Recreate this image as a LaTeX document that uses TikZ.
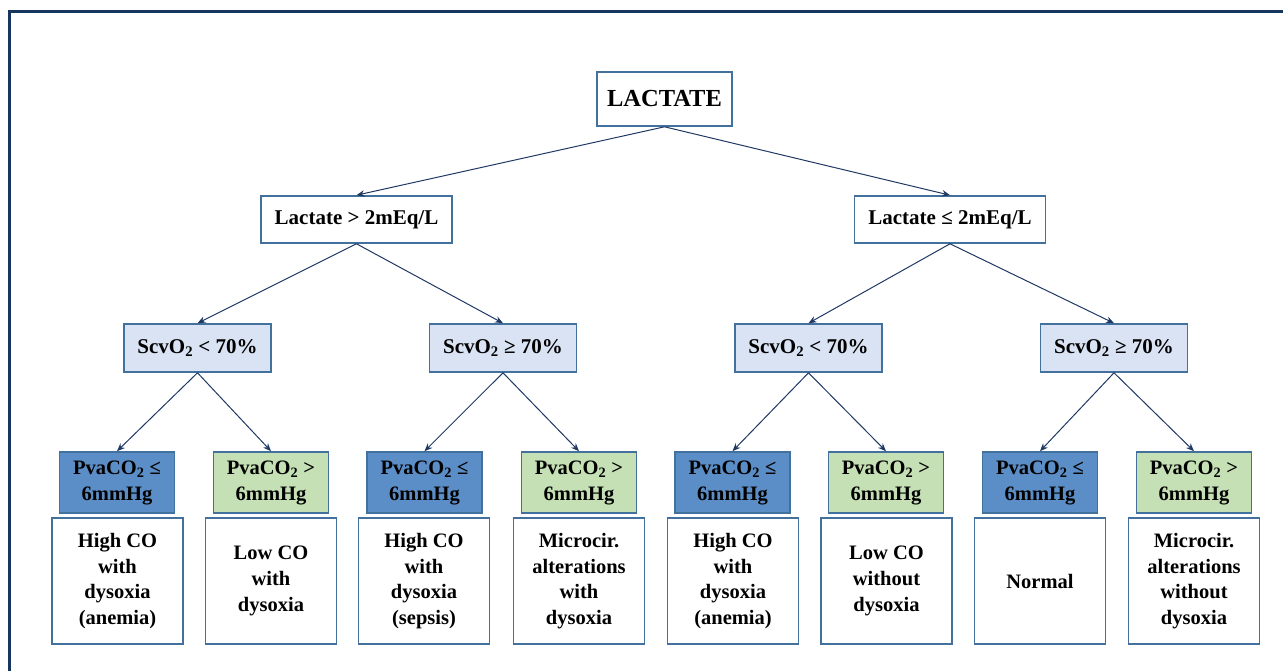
\documentclass[tikz,border=0pt]{standalone}
\usepackage{fontspec}
\setmainfont{Liberation Serif}
\usepackage{xcolor}
\usepackage{tikz}
\usetikzlibrary{arrows.meta}

\definecolor{framenavy}{HTML}{17365D}
\definecolor{edgeblue}{HTML}{41719C}
\definecolor{arrownavy}{HTML}{203864}
\definecolor{scvfill}{HTML}{DAE3F3}
\definecolor{lowfill}{HTML}{5B8DC6}
\definecolor{highfill}{HTML}{C5E0B4}

\newcommand{\pvaco}{PvaCO\textsubscript{2}}
\newcommand{\scvo}{ScvO\textsubscript{2}}

\tikzset{
  box/.style={draw=edgeblue, line width=1.6pt, fill=white, inner sep=0pt, align=center},
  topbox/.style={box, minimum width=135pt, minimum height=54pt, font=\bfseries\fontsize{24.5}{28}\selectfont},
  midbox/.style={box, minimum width=191pt, minimum height=47pt, font=\bfseries\fontsize{21}{23}\selectfont},
  scvbox/.style={box, fill=scvfill, minimum width=147pt, minimum height=48pt, font=\bfseries\fontsize{21}{23}\selectfont},
  pvalow/.style={box, fill=lowfill, minimum width=115pt, minimum height=61pt, font=\bfseries\fontsize{20.5}{26}\selectfont},
  pvahigh/.style={pvalow, fill=highfill},
  outbox/.style={box, minimum width=131pt, minimum height=126pt, font=\bfseries\fontsize{20.5}{25.7}\selectfont},
  link/.style={draw=arrownavy, line width=1pt, -{Stealth[length=8pt,width=6.5pt]}},
}

\begin{document}
\begin{tikzpicture}[x=1pt, y=-1pt]
    \useasboundingbox (0,0) rectangle (1283,671);
    \draw[framenavy, line width=3pt] (9,690) -- (9,12) -- (1300,12);

    \node[topbox] (lactate) at (664.5,99) {LACTATE};
    \node[midbox] (high) at (356.5,219.5) {Lactate > 2mEq/L};
    \node[midbox] (low) at (950,219.5) {Lactate ≤ 2mEq/L};

    \node[scvbox] (scvA) at (197.5,348) {\scvo{} < 70\%};
    \node[scvbox] (scvB) at (503,348) {\scvo{} ≥ 70\%};
    \node[scvbox] (scvC) at (808.5,348) {\scvo{} < 70\%};
    \node[scvbox] (scvD) at (1114,348) {\scvo{} ≥ 70\%};

    \node[pvalow] (pva1) at (117,482.5) {\pvaco{} ≤\\6mmHg};
    \node[pvahigh] (pva2) at (271,482.5) {\pvaco{} >\\6mmHg};
    \node[pvalow] (pva3) at (424.5,482.5) {\pvaco{} ≤\\6mmHg};
    \node[pvahigh] (pva4) at (579,482.5) {\pvaco{} >\\6mmHg};
    \node[pvalow] (pva5) at (732.5,482.5) {\pvaco{} ≤\\6mmHg};
    \node[pvahigh] (pva6) at (886,482.5) {\pvaco{} >\\6mmHg};
    \node[pvalow] (pva7) at (1040,482.5) {\pvaco{} ≤\\6mmHg};
    \node[pvahigh] (pva8) at (1194,482.5) {\pvaco{} >\\6mmHg};

    \node[outbox] (out1) at (117.5,581) {High CO\\with\\dysoxia\\(anemia)};
    \node[outbox] (out2) at (271,581) {Low CO\\with\\dysoxia};
    \node[outbox] (out3) at (424,581) {High CO\\with\\dysoxia\\(sepsis)};
    \node[outbox] (out4) at (579,581) {Microcir.\\alterations\\with\\dysoxia};
    \node[outbox] (out5) at (733,581) {High CO\\with\\dysoxia\\(anemia)};
    \node[outbox] (out6) at (886.5,581) {Low CO\\without\\dysoxia};
    \node[outbox] (out7) at (1040,581) {Normal};
    \node[outbox] (out8) at (1194,581) {Microcir.\\alterations\\without\\dysoxia};

    \path (lactate.south) edge[link] (high.north);
    \path (lactate.south) edge[link] (low.north);
    \path (high.south) edge[link] (scvA.north);
    \path (high.south) edge[link] (scvB.north);
    \path (low.south) edge[link] (scvC.north);
    \path (low.south) edge[link] (scvD.north);
    \path (scvA.south) edge[link] (pva1.north);
    \path (scvA.south) edge[link] (pva2.north);
    \path (scvB.south) edge[link] (pva3.north);
    \path (scvB.south) edge[link] (pva4.north);
    \path (scvC.south) edge[link] (pva5.north);
    \path (scvC.south) edge[link] (pva6.north);
    \path (scvD.south) edge[link] (pva7.north);
    \path (scvD.south) edge[link] (pva8.north);
\end{tikzpicture}
\end{document}
